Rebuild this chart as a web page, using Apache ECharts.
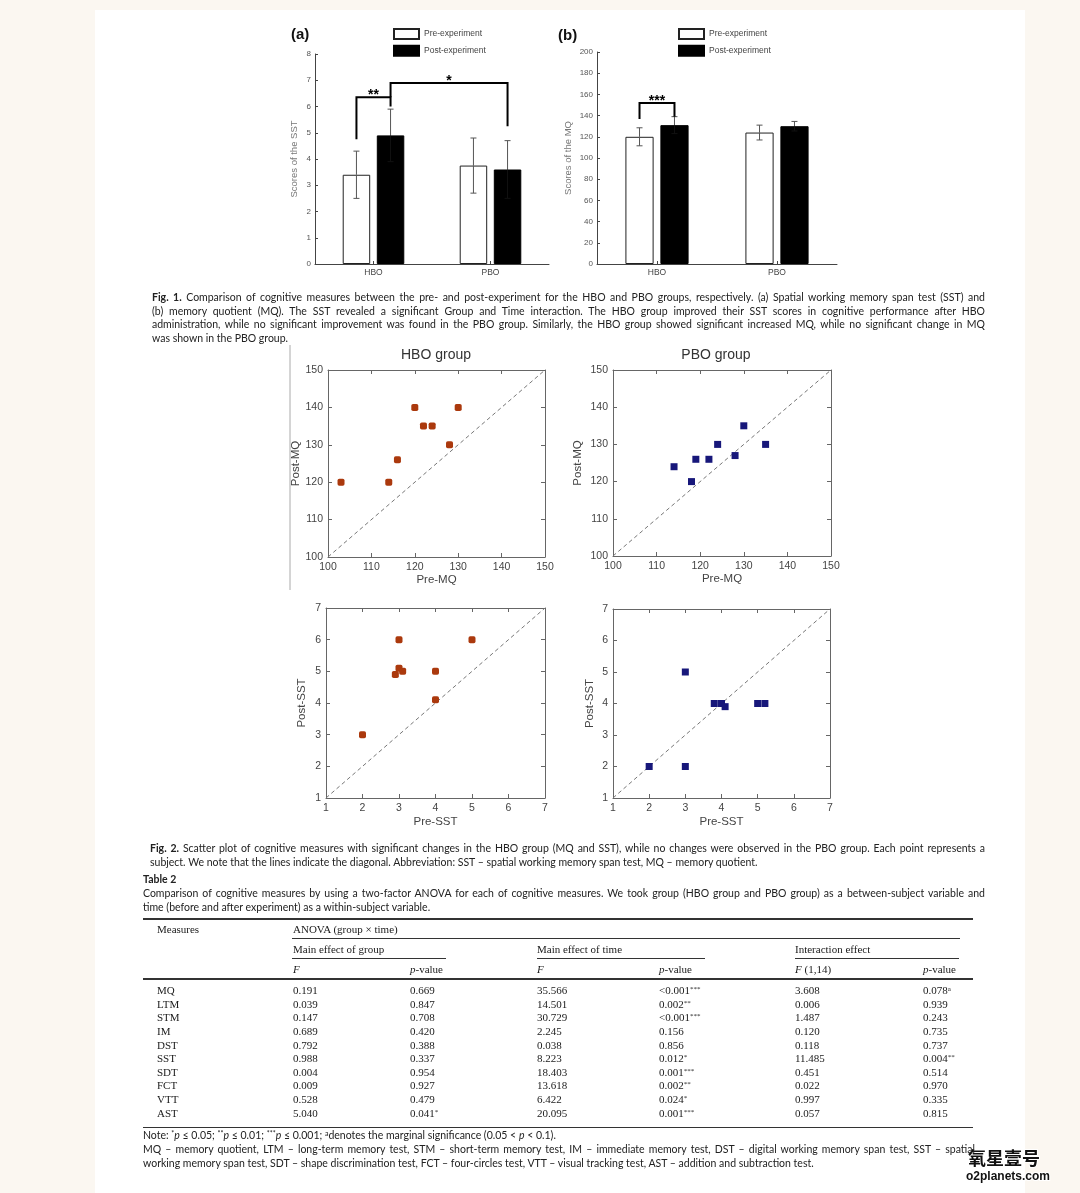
<!DOCTYPE html>
<html><head><meta charset="utf-8">
<script src="https://cdn.jsdelivr.net/npm/echarts@6/dist/echarts.min.js"></script>
<style>
html,body{margin:0;padding:0;}
body{width:1080px;height:1193px;background:#fbf7f1;position:relative;overflow:hidden;}
#paper{position:absolute;left:95px;top:10px;width:930px;height:1183px;background:#fff;}
#chart{position:absolute;left:0;top:0;width:1080px;height:1193px;}
.cap{position:absolute;white-space:pre;font-family:Lato,"Noto Sans","Liberation Sans",sans-serif;font-size:10.5px;color:#222;line-height:14px;}
.tb{position:absolute;white-space:pre;font-family:"Liberation Serif","DejaVu Serif",serif;font-size:11px;color:#1a1a1a;line-height:14px;}
.rule{position:absolute;background:#333;}
sup{font-size:7px;vertical-align:3px;line-height:0;}
</style>
</head><body>
<div id="paper"></div>
<div id="chart"></div>
<script>
// ---------------- DATA ----------------
const groups = ['HBO', 'PBO'];
const seriesNames = ['Pre-experiment', 'Post-experiment'];
// Fig.1 (a) SST
const sstPre = [3.4, 3.75];
const sstPreSd = [0.9, 1.05];
const sstPost = [4.9, 3.6];
const sstPostSd = [1.0, 1.1];
// Fig.1 (b) MQ
const mqPre = [120, 124];
const mqPreSd = [8.5, 7];
const mqPost = [131, 130];
const mqPostSd = [8, 4.5];
// significance brackets: [cat1, side1, cat2, side2, top, leftLegEnd, rightLegEnd]
const bracketsA = [[0, -1, 0, 1, 6.35, 4.75, 6.0], [0, 1, 1, 1, 6.9, 6.35, 5.25]];
const bracketLabelsA = ['**', '*'];
const bracketsB = [[0, -1, 0, 1, 152, 136.8, 139]];
const bracketLabelsB = ['***'];
// Fig.2 scatter
const hboPreMQ = [103, 114, 116, 120, 122, 124, 128, 130];
const hboPostMQ = [120, 120, 126, 140, 135, 135, 130, 140];
const pboPreMQ = [114, 118, 119, 122, 124, 128, 130, 135];
const pboPostMQ = [124, 120, 126, 126, 130, 127, 135, 130];
const hboPreSST = [2, 3, 3, 2.9, 3.1, 4, 4, 5];
const hboPostSST = [3, 6, 5.1, 4.9, 5, 5, 4.1, 6];
const pboPreSST = [2, 3, 3, 3.8, 4, 4.1, 5, 5.2];
const pboPostSST = [2, 2, 5, 4, 4, 3.9, 4, 4];
const pTexts = ['p = 0.001', 'p = 0.063', 'p = 0.003', 'p = 0.815'];
const diagMQ = [100, 150];
const diagSST = [1, 7];
// Table 2
const measures = ['MQ', 'LTM', 'STM', 'IM', 'DST', 'SST', 'SDT', 'FCT', 'VTT', 'AST'];
const fGroup = ['0.191', '0.039', '0.147', '0.689', '0.792', '0.988', '0.004', '0.009', '0.528', '5.040'];
const pGroup = ['0.669', '0.847', '0.708', '0.420', '0.388', '0.337', '0.954', '0.927', '0.479', '0.041*'];
const fTime = ['35.566', '14.501', '30.729', '2.245', '0.038', '8.223', '18.403', '13.618', '6.422', '20.095'];
const pTime = ['<0.001***', '0.002**', '<0.001***', '0.156', '0.856', '0.012*', '0.001***', '0.002**', '0.024*', '0.001***'];
const fInter = ['3.608', '0.006', '1.487', '0.120', '0.118', '11.485', '0.451', '0.022', '0.997', '0.057'];
const pInter = ['0.078a', '0.939', '0.243', '0.735', '0.737', '0.004**', '0.514', '0.970', '0.335', '0.815'];

// ---------------- TEXT BLOCKS ----------------
const fig1Lines = [
 '<b>Fig. 1.</b> Comparison of cognitive measures between the pre- and post-experiment for the HBO and PBO groups, respectively. (a) Spatial working memory span test (SST) and',
 '(b) memory quotient (MQ). The SST revealed a significant Group and Time interaction. The HBO group improved their SST scores in cognitive performance after HBO',
 'administration, while no significant improvement was found in the PBO group. Similarly, the HBO group showed significant increased MQ, while no significant change in MQ',
 'was shown in the PBO group.'
];
const fig2Lines = [
 '<b>Fig. 2.</b> Scatter plot of cognitive measures with significant changes in the HBO group (MQ and SST), while no changes were observed in the PBO group. Each point represents a',
 'subject. We note that the lines indicate the diagonal. Abbreviation: SST – spatial working memory span test, MQ – memory quotient.'
];
const tabCapLines = [
 'Comparison of cognitive measures by using a two-factor ANOVA for each of cognitive measures. We took group (HBO group and PBO group) as a between-subject variable and',
 'time (before and after experiment) as a within-subject variable.'
];
const noteLines = [
 'Note: <sup>*</sup><i>p</i> ≤ 0.05; <sup>**</sup><i>p</i> ≤ 0.01; <sup>***</sup><i>p</i> ≤ 0.001; <sup>a</sup>denotes the marginal significance (0.05 &lt; <i>p</i> &lt; 0.1).',
 'MQ – memory quotient, LTM – long-term memory test, STM – short-term memory test, IM – immediate memory test, DST – digital working memory span test, SST – spatial',
 'working memory span test, SDT – shape discrimination test, FCT – four-circles test, VTT – visual tracking test, AST – addition and subtraction test.'
];

function addDiv(html, cls, x, yc) {
  const d = document.createElement('div');
  d.className = cls; d.innerHTML = html;
  d.style.left = x + 'px'; d.style.top = (yc - 7) + 'px';
  document.body.appendChild(d); return d;
}
function justify(d, W) {
  let fs = 10.5;
  for (let k = 0; k < 6; k++) {
    d.style.fontSize = fs + 'px'; d.style.wordSpacing = '0px';
    const w = d.getBoundingClientRect().width;
    const n = (d.textContent.match(/ /g) || []).length;
    const ws = n ? (W - w) / n : 0;
    if (ws < -0.8) { fs = fs * (W + n * 0.3) / w; continue; }
    d.style.wordSpacing = ws + 'px'; break;
  }
  return fs;
}
function block(lines, x, y0, dy, W) {
  let fs = 10.5;
  lines.forEach((t, i) => {
    const d = addDiv(t, 'cap', x, y0 + i * dy);
    if (i < lines.length - 1) fs = justify(d, W); else d.style.fontSize = fs + 'px';
  });
}
block(fig1Lines, 152, 297, 13.7, 833);
block(fig2Lines, 150, 848, 14, 835);
addDiv('<b>Table 2</b>', 'cap', 143, 879);
block(tabCapLines, 143, 892.5, 14, 842);
addDiv(noteLines[0], 'cap', 143, 1135);
justify(addDiv(noteLines[1], 'cap', 143, 1149), 832);
addDiv(noteLines[2], 'cap', 143, 1162.5);

function rule(x1, x2, y, h) {
  const d = document.createElement('div'); d.className = 'rule';
  d.style.left = x1 + 'px'; d.style.width = (x2 - x1) + 'px';
  d.style.top = (y - h / 2) + 'px'; d.style.height = h + 'px';
  document.body.appendChild(d);
}
rule(143, 973, 919, 1.5);
rule(292, 960, 938, 1);
rule(292, 446, 958, 1); rule(537, 705, 958, 1); rule(795, 959, 958, 1);
rule(143, 973, 979, 1.2);
rule(143, 973, 1127, 1);
addDiv('Measures', 'tb', 157, 929);
addDiv('ANOVA (group × time)', 'tb', 293, 929);
addDiv('Main effect of group', 'tb', 293, 949);
addDiv('Main effect of time', 'tb', 537, 949);
addDiv('Interaction effect', 'tb', 795, 949);
const colX = [157, 293, 410, 537, 659, 795, 923];
['<i>F</i>', '<i>p</i>-value', '<i>F</i>', '<i>p</i>-value', '<i>F</i> (1,14)', '<i>p</i>-value']
  .forEach((t, i) => addDiv(t, 'tb', colX[i + 1], 969));
function sig(s) {
  const m = s.match(/^([^*a]*)([*]+|a)?$/);
  return m[1].replace('<', '&lt;') + (m[2] ? '<sup>' + m[2] + '</sup>' : '');
}
const cols = [measures, fGroup, pGroup, fTime, pTime, fInter, pInter];
measures.forEach((_, r) => {
  cols.forEach((c, k) => addDiv(sig(c[r]), 'tb', colX[k], 990 + r * 13.63));
});

// ---------------- CHART ----------------
const FONT = '"Liberation Sans", Arial, sans-serif';
const OFF = 0.235 * 1.24 / 2; // bar centre offset as a fraction of the category band
const chart = echarts.init(document.getElementById('chart'), null, { renderer: 'canvas' });

function errRender(params, api) {
  const cat = api.value(0), m = api.value(1), sd = api.value(2), side = api.value(3), dark = api.value(4);
  const band = api.size([1, 0])[0];
  const p = api.coord([cat, m]);
  const x = p[0] + side * OFF * band;
  const yT = api.coord([cat, m + sd])[1], yB = api.coord([cat, m - sd])[1];
  const c = 3;
  const up = { stroke: '#555', lineWidth: 1 };
  const lo = { stroke: dark ? '#111' : '#555', lineWidth: 1 };
  return { type: 'group', children: [
    { type: 'line', shape: { x1: x, y1: yT, x2: x, y2: p[1] }, style: up },
    { type: 'line', shape: { x1: x - c, y1: yT, x2: x + c, y2: yT }, style: up },
    { type: 'line', shape: { x1: x, y1: p[1], x2: x, y2: yB }, style: lo },
    { type: 'line', shape: { x1: x - c, y1: yB, x2: x + c, y2: yB }, style: lo }
  ]};
}
function brRender(labels) {
  return function (params, api) {
    const band = api.size([1, 0])[0];
    const x1 = api.coord([api.value(0), api.value(4)])[0] + api.value(1) * OFF * band;
    const x2 = api.coord([api.value(2), api.value(4)])[0] + api.value(3) * OFF * band;
    const yT = api.coord([api.value(0), api.value(4)])[1];
    const yL = api.coord([api.value(0), api.value(5)])[1];
    const yR = api.coord([api.value(0), api.value(6)])[1];
    return { type: 'group', children: [
      { type: 'polyline', shape: { points: [[x1, yL], [x1, yT], [x2, yT], [x2, yR]] }, style: { stroke: '#000', lineWidth: 2, fill: null } },
      { type: 'text', style: { text: labels[params.dataIndex], x: (x1 + x2) / 2, y: yT + 5, align: 'center', verticalAlign: 'bottom', font: 'bold 14px ' + FONT, fill: '#000' } }
    ]};
  };
}
function errData(means, sds, side, dark) {
  return means.map((m, i) => [i, m, sds[i], side, dark]);
}

const barAxisLine = { show: true, lineStyle: { color: '#444', width: 1 } };
const barTick = { show: true, inside: true, length: 3, lineStyle: { color: '#444' } };

const grids = [
  { left: 315, top: 54, width: 234, height: 210 },
  { left: 597, top: 52, width: 240, height: 212 },
  { left: 328, top: 370, width: 217, height: 187 },
  { left: 613, top: 370, width: 218, height: 186 },
  { left: 326, top: 608, width: 219, height: 190 },
  { left: 613, top: 609, width: 217, height: 189 }
].map(g => Object.assign({ containLabel: false, outerBoundsMode: 'none' }, g));

const xAxes = [], yAxes = [];
[['SST', 0, 8, 1, 16], ['MQ', 0, 200, 20, 24]].forEach((a, i) => {
  xAxes.push({ type: 'category', gridIndex: i, data: groups, axisLine: barAxisLine,
    axisTick: Object.assign({ alignWithLabel: true }, barTick),
    axisLabel: { fontSize: 8.5, color: '#444', margin: 4 }, splitLine: { show: false } });
  yAxes.push({ type: 'value', gridIndex: i, min: a[1], max: a[2], interval: a[3],
    axisLine: barAxisLine, axisTick: barTick, splitLine: { show: false },
    axisLabel: { fontSize: 8, color: '#555', margin: 4 },
    name: 'Scores of the ' + a[0], nameLocation: 'middle', nameGap: a[4],
    nameTextStyle: { fontSize: 9.5, color: '#777' } });
});

const scat = [
  { pre: hboPreMQ, post: hboPostMQ, diag: diagMQ, int: 10, xn: 'Pre-MQ', yn: 'Post-MQ', yGap: 26, xGap: 17, sym: 'roundRect', col: '#ab390d', p: 0, at: [130, 114.3] },
  { pre: pboPreMQ, post: pboPostMQ, diag: diagMQ, int: 10, xn: 'Pre-MQ', yn: 'Post-MQ', yGap: 29, xGap: 17, sym: 'rect', col: '#17177a', p: 1, at: [131.7, 113.6] },
  { pre: hboPreSST, post: hboPostSST, diag: diagSST, int: 1, xn: 'Pre-SST', yn: 'Post-SST', yGap: 18, xGap: 18, sym: 'roundRect', col: '#ab390d', p: 2, at: [4.63, 2.92] },
  { pre: pboPreSST, post: pboPostSST, diag: diagSST, int: 1, xn: 'Pre-SST', yn: 'Post-SST', yGap: 17, xGap: 18, sym: 'rect', col: '#17177a', p: 3, at: [4.73, 2.53] }
];
const scLine = { show: true, lineStyle: { color: '#666', width: 1 } };
const scTick = { show: true, inside: true, length: 4, lineStyle: { color: '#666' } };
const scLabel = { fontSize: 10.5, color: '#444', margin: 5 };
const nameStyle = { fontSize: 11.5, color: '#444' };
scat.forEach((s, k) => {
  const g = k + 2;
  xAxes.push({ type: 'value', gridIndex: g, min: s.diag[0], max: s.diag[1], interval: s.int,
    axisLine: scLine, axisTick: scTick, axisLabel: scLabel, splitLine: { show: false },
    name: s.xn, nameLocation: 'middle', nameGap: s.xGap, nameTextStyle: nameStyle });
  yAxes.push({ type: 'value', gridIndex: g, min: s.diag[0], max: s.diag[1], interval: s.int,
    axisLine: scLine, axisTick: scTick, axisLabel: scLabel, splitLine: { show: false },
    name: s.yn, nameLocation: 'middle', nameGap: s.yGap, nameTextStyle: nameStyle });
});
scat.forEach((s, k) => {
  const g = k + 2;
  xAxes.push({ type: 'value', gridIndex: g, position: 'top', min: s.diag[0], max: s.diag[1], interval: s.int,
    axisLine: scLine, axisTick: scTick, axisLabel: { show: false }, splitLine: { show: false } });
  yAxes.push({ type: 'value', gridIndex: g, position: 'right', min: s.diag[0], max: s.diag[1], interval: s.int,
    axisLine: scLine, axisTick: scTick, axisLabel: { show: false }, splitLine: { show: false } });
});

const series = [];
[[sstPre, sstPreSd, sstPost, sstPostSd, bracketsA, bracketLabelsA],
 [mqPre, mqPreSd, mqPost, mqPostSd, bracketsB, bracketLabelsB]].forEach((d, i) => {
  series.push({ type: 'bar', name: seriesNames[0], xAxisIndex: i, yAxisIndex: i, data: d[0],
    barWidth: '23.5%', barGap: '24%', itemStyle: { color: '#fff', borderColor: '#222', borderWidth: 1 }, silent: true });
  series.push({ type: 'bar', name: seriesNames[1], xAxisIndex: i, yAxisIndex: i, data: d[2],
    barWidth: '23.5%', barGap: '24%', itemStyle: { color: '#000', borderColor: '#000', borderWidth: 1 }, silent: true });
  series.push({ type: 'custom', xAxisIndex: i, yAxisIndex: i, z: 5, clip: false, silent: true,
    encode: { x: 0, y: 1 }, renderItem: errRender,
    data: errData(d[0], d[1], -1, 0).concat(errData(d[2], d[3], 1, 1)) });
  series.push({ type: 'custom', xAxisIndex: i, yAxisIndex: i, z: 6, clip: false, silent: true,
    encode: { x: 0, y: 4 }, renderItem: brRender(d[5]), data: d[4] });
});
scat.forEach((s, k) => {
  series.push({ type: 'line', xAxisIndex: k + 2, yAxisIndex: k + 2, data: [[s.diag[0], s.diag[0]], [s.diag[1], s.diag[1]]],
    symbol: 'none', silent: true, lineStyle: { type: [4, 3], color: '#777', width: 1 }, z: 2 });
  series.push({ type: 'scatter', xAxisIndex: k + 2, yAxisIndex: k + 2, data: s.pre.map((v, i) => [v, s.post[i]]),
    symbol: s.sym, symbolSize: 7, itemStyle: { color: s.col, opacity: 1 }, z: 3, silent: true });
  series.push({ type: 'scatter', xAxisIndex: k + 2, yAxisIndex: k + 2, data: [s.at], symbolSize: 1,
    itemStyle: { opacity: 0 }, silent: true,
    label: { show: true, position: 'right', distance: 0, formatter: pTexts[s.p], fontSize: 11, color: '#333', fontFamily: FONT } });
});

const legendBase = { data: seriesNames, orient: 'vertical', itemWidth: 25, itemHeight: 10, itemGap: 4.7,
  icon: 'rect', selectedMode: false, padding: 0, textStyle: { fontSize: 8.5, color: '#444', fontFamily: FONT } };

const option = {
  animation: false,
  backgroundColor: 'transparent',
  textStyle: { fontFamily: FONT },
  legend: [Object.assign({ left: 393, top: 28 }, legendBase), Object.assign({ left: 678, top: 28 }, legendBase)],
  grid: grids,
  xAxis: xAxes,
  yAxis: yAxes,
  series: series,
  graphic: [
    { type: 'text', x: 291, y: 35, style: { text: '(a)', font: 'bold 15px ' + FONT, fill: '#111', verticalAlign: 'middle' } },
    { type: 'text', x: 558, y: 36, style: { text: '(b)', font: 'bold 15px ' + FONT, fill: '#111', verticalAlign: 'middle' } },
    { type: 'text', x: 436, y: 355, style: { text: 'HBO group', font: '14px ' + FONT, fill: '#333', align: 'center', verticalAlign: 'middle' } },
    { type: 'text', x: 716, y: 355, style: { text: 'PBO group', font: '14px ' + FONT, fill: '#333', align: 'center', verticalAlign: 'middle' } },
    { type: 'line', shape: { x1: 290, y1: 345, x2: 290, y2: 590 }, style: { stroke: '#aaa', lineWidth: 1 } },
    { type: 'text', x: 968, y: 1158, style: { text: '氧星壹号', font: 'bold 18px "Noto Sans CJK SC"', fill: '#111', verticalAlign: 'middle', stroke: '#fff', lineWidth: 2 } },
    { type: 'text', x: 966, y: 1177, style: { text: 'o2planets.com', font: 'bold 12px ' + FONT, fill: '#111', verticalAlign: 'middle', stroke: '#fff', lineWidth: 2 } }
  ]
};
chart.setOption(option);
</script>
</body></html>
